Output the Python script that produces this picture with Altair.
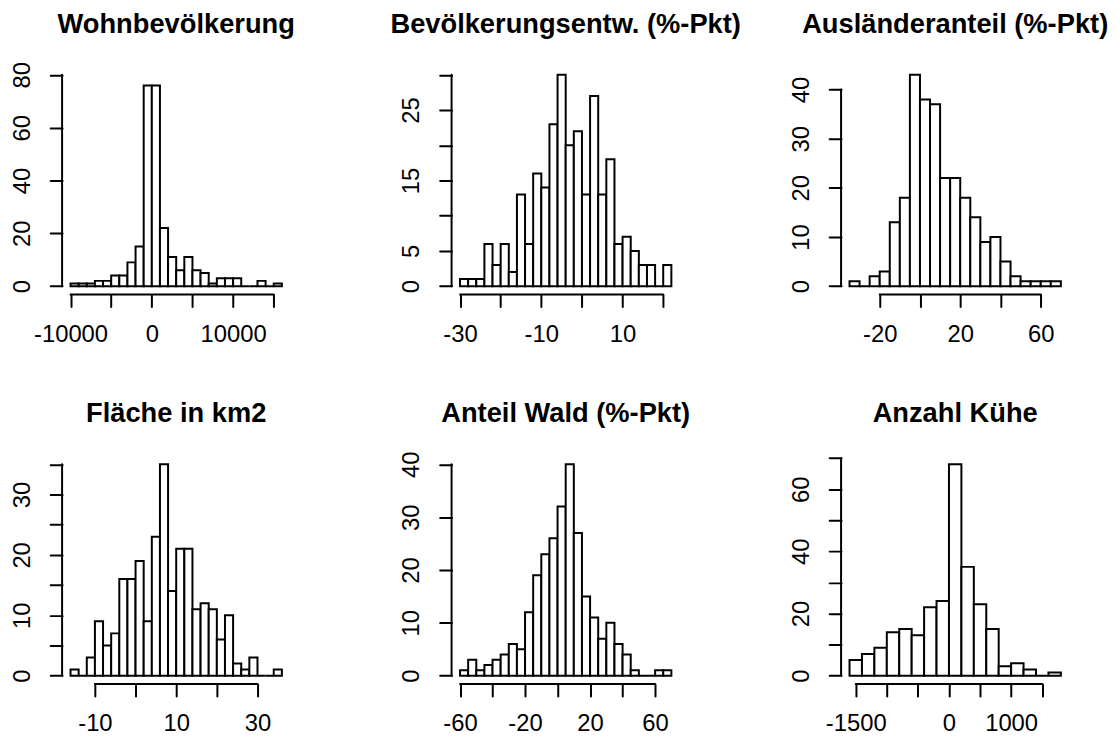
import json
import altair as alt
import pandas as pd

FONT = "Liberation Sans"

titles = ["Wohnbevölkerung", "Bevölkerungsentw. (%-Pkt)", "Ausländeranteil (%-Pkt)",
          "Fläche in km2", "Anteil Wald (%-Pkt)", "Anzahl Kühe"]

# ---- Wohnbevölkerung
wohn_breaks = [-10000, -9000, -8000, -7000, -6000, -5000, -4000, -3000, -2000, -1000, 0,
               1000, 2000, 3000, 4000, 5000, 6000, 7000, 8000, 9000, 10000, 11000, 12000,
               13000, 14000, 15000, 16000]
wohn_counts = [1, 1, 1, 2, 2, 4, 4, 9, 15, 76, 76, 22, 11, 6, 11, 6, 5, 1, 3, 3, 3, 0, 0, 2, 0, 1]
wohn_xticks = [-10000, -5000, 0, 5000, 10000, 15000]
wohn_xlabels = [-10000, 0, 10000]
wohn_yticks = [0, 20, 40, 60, 80]
wohn_ylabels = [0, 20, 40, 60, 80]

# ---- Bevölkerungsentwicklung
bev_breaks = [-30, -28, -26, -24, -22, -20, -18, -16, -14, -12, -10, -8, -6, -4, -2, 0,
              2, 4, 6, 8, 10, 12, 14, 16, 18, 20, 22]
bev_counts = [1, 1, 1, 6, 3, 6, 2, 13, 6, 16, 14, 23, 30, 20, 22, 13, 27, 13, 18, 6, 7, 5, 3, 3, 0, 3]
bev_xticks = [-30, -20, -10, 0, 10, 20]
bev_xlabels = [-30, -10, 10]
bev_yticks = [0, 5, 10, 15, 20, 25, 30]
bev_ylabels = [0, 5, 15, 25]

# ---- Ausländeranteil
aus_breaks = [-35, -30, -25, -20, -15, -10, -5, 0, 5, 10, 15, 20, 25, 30, 35, 40, 45, 50,
              55, 60, 65, 70]
aus_counts = [1, 0, 2, 3, 13, 18, 43, 38, 37, 22, 22, 18, 14, 9, 10, 5, 2, 1, 1, 1, 1]
aus_xticks = [-20, 0, 20, 40, 60]
aus_xlabels = [-20, 20, 60]
aus_yticks = [0, 10, 20, 30, 40]
aus_ylabels = [0, 10, 20, 30, 40]

# ---- Fläche in km2
fl_breaks = [-16, -14, -12, -10, -8, -6, -4, -2, 0, 2, 4, 6, 8, 10, 12, 14, 16, 18, 20,
             22, 24, 26, 28, 30, 32, 34, 36]
fl_counts = [1, 0, 3, 9, 5, 7, 16, 16, 19, 9, 23, 35, 14, 21, 21, 11, 12, 11, 6, 10, 2, 1, 3, 0, 0, 1]
fl_xticks = [-10, 0, 10, 20, 30]
fl_xlabels = [-10, 10, 30]
fl_yticks = [0, 5, 10, 15, 20, 25, 30, 35]
fl_ylabels = [0, 10, 20, 30]

# ---- Anteil Wald
wald_breaks = [-60, -55, -50, -45, -40, -35, -30, -25, -20, -15, -10, -5, 0, 5, 10, 15,
               20, 25, 30, 35, 40, 45, 50, 55, 60, 65, 70]
wald_counts = [1, 3, 1, 2, 3, 4, 6, 5, 12, 19, 23, 26, 32, 40, 27, 15, 11, 7, 10, 6, 4, 1, 0, 0, 1, 1]
wald_xticks = [-60, -40, -20, 0, 20, 40, 60]
wald_xlabels = [-60, -20, 20, 60]
wald_yticks = [0, 10, 20, 30, 40]
wald_ylabels = [0, 10, 20, 30, 40]

# ---- Anzahl Kühe
kuh_breaks = [-1600, -1400, -1200, -1000, -800, -600, -400, -200, 0, 200, 400, 600, 800,
              1000, 1200, 1400, 1600, 1800]
kuh_counts = [5, 7, 9, 14, 15, 13, 22, 24, 68, 35, 23, 15, 3, 4, 2, 0, 1]
kuh_xticks = [-1500, -1000, -500, 0, 500, 1000, 1500]
kuh_xlabels = [-1500, 0, 1000]
kuh_yticks = [0, 10, 20, 30, 40, 50, 60, 70]
kuh_ylabels = [0, 20, 40, 60]

# upper y limit used by each panel (R's ylim before 4% expansion)
y_tops = [80, 30, 43, 35, 40, 68]

W = H = 230
TICK = 12
LW = 2
LABEL_SIZE = 24
TITLE_SIZE = 27.5
LABEL_DIST = 40   # distance from axis line to label centre
TITLE_RAISE = 34  # baseline of title above plot top


def label_expr(labels):
    return f"indexof({json.dumps(labels)}, datum.value) >= 0 ? toString(datum.value) : ''"


def panel(title, breaks, counts, xticks, xlabels, yticks, ylabels, ytop):
    df = pd.DataFrame({"lo": breaks[:-1], "hi": breaks[1:], "n": counts})
    r = breaks[-1] - breaks[0]
    xs = alt.Scale(domain=[breaks[0] - 0.04 * r, breaks[-1] + 0.04 * r], nice=False, zero=False)
    ys = alt.Scale(domain=[-0.04 * ytop, 1.04 * ytop], nice=False, zero=False)
    common = dict(domain=False, grid=False, ticks=True, tickSize=TICK, tickWidth=LW,
                  tickColor="black", tickCap="round", labelFont=FONT, labelFontSize=LABEL_SIZE,
                  labelColor="black", labelPadding=LABEL_DIST - TICK, labelOverlap=False,
                  labelFlush=False, labelBound=False, title=None)
    xaxis = alt.Axis(values=xticks, labelExpr=label_expr(xlabels), labelAngle=0,
                     labelBaseline="middle", labelAlign="center", **common)
    yaxis = alt.Axis(values=yticks, labelExpr=label_expr(ylabels), labelAngle=270,
                     labelBaseline="middle", labelAlign="center", **common)

    bars = alt.Chart(df).mark_rect(fill="white", stroke="black", strokeWidth=LW).encode(
        x=alt.X("lo:Q", scale=xs, axis=xaxis),
        x2="hi",
        y=alt.Y("n:Q", scale=ys, axis=yaxis),
        y2=alt.datum(0),
    )
    xline = alt.Chart(pd.DataFrame({"a": [xticks[0]], "b": [xticks[-1]]})).mark_rule(
        stroke="black", strokeWidth=LW, strokeCap="round").encode(
        x=alt.X("a:Q", scale=xs, axis=xaxis), x2="b", y=alt.value(H))
    yline = alt.Chart(pd.DataFrame({"a": [yticks[0]], "b": [yticks[-1]]})).mark_rule(
        stroke="black", strokeWidth=LW, strokeCap="round").encode(
        y=alt.Y("a:Q", scale=ys, axis=yaxis), y2="b", x=alt.value(0))
    ttl = alt.Chart(pd.DataFrame({"t": [title]})).mark_text(
        font=FONT, fontSize=TITLE_SIZE, fontWeight="bold", align="center",
        baseline="alphabetic", color="black").encode(
        text="t:N", x=alt.value(W / 2), y=alt.value(-TITLE_RAISE))
    return alt.layer(bars, xline, yline, ttl).properties(width=W, height=H)


panels = [
    panel(titles[0], wohn_breaks, wohn_counts, wohn_xticks, wohn_xlabels, wohn_yticks, wohn_ylabels, y_tops[0]),
    panel(titles[1], bev_breaks, bev_counts, bev_xticks, bev_xlabels, bev_yticks, bev_ylabels, y_tops[1]),
    panel(titles[2], aus_breaks, aus_counts, aus_xticks, aus_xlabels, aus_yticks, aus_ylabels, y_tops[2]),
    panel(titles[3], fl_breaks, fl_counts, fl_xticks, fl_xlabels, fl_yticks, fl_ylabels, y_tops[3]),
    panel(titles[4], wald_breaks, wald_counts, wald_xticks, wald_xlabels, wald_yticks, wald_ylabels, y_tops[4]),
    panel(titles[5], kuh_breaks, kuh_counts, kuh_xticks, kuh_xlabels, kuh_yticks, kuh_ylabels, y_tops[5]),
]

chart = alt.concat(*panels, columns=3, spacing=162.5, bounds="flush").properties(
    padding={"left": 1.5, "top": 0, "right": 0, "bottom": 0},
    background="white",
).configure_view(stroke=None, strokeWidth=0)

chart.save("out.html", embed_options={"renderer": "svg", "actions": False})
